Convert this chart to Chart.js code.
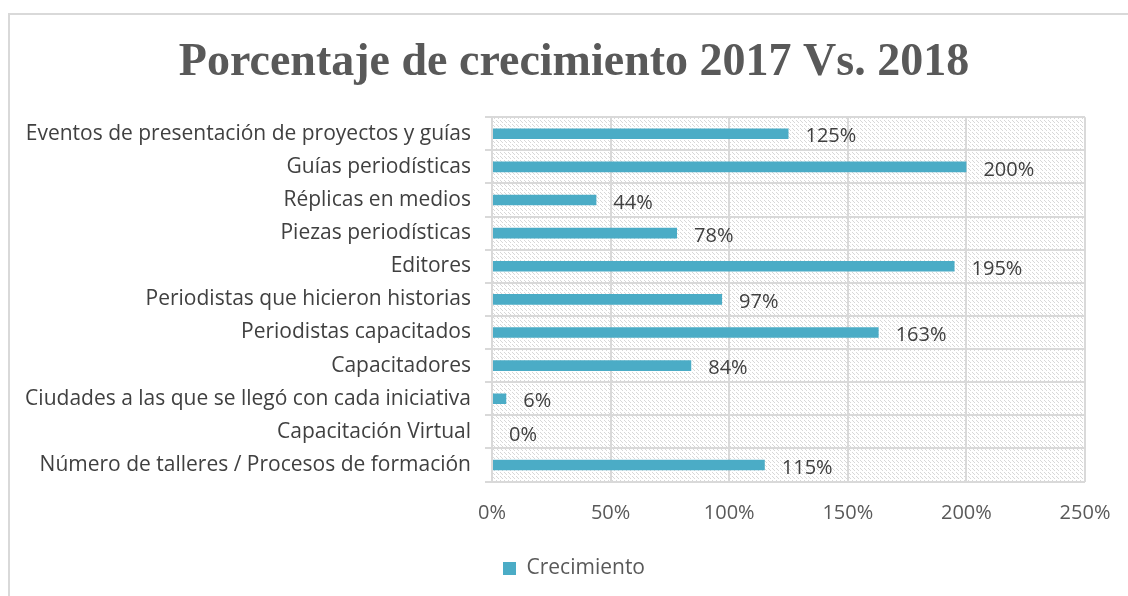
<!DOCTYPE html>
<html>
<head>
<meta charset="utf-8">
<script src="https://cdn.jsdelivr.net/npm/chart.js@4/dist/chart.umd.min.js"></script>
<style>
  html, body { margin: 0; padding: 0; background: #fff; overflow: hidden; }
  #frame { position: absolute; left: 8px; top: 13px; width: 1130px; height: 600px;
           border-left: 2px solid #d9d9d9; border-top: 2px solid #d9d9d9; }
  #wrap { position: absolute; left: 0; top: 0; width: 1148px; height: 596px; }
</style>
</head>
<body>
<div id="frame"></div>
<div id="wrap"><canvas id="chart"></canvas></div>
<script>
const categories = [
  'Eventos de presentación de proyectos y guías',
  'Guías periodísticas',
  'Réplicas en medios',
  'Piezas periodísticas',
  'Editores',
  'Periodistas que hicieron historias',
  'Periodistas capacitados',
  'Capacitadores',
  'Ciudades a las que se llegó con cada iniciativa',
  'Capacitación Virtual',
  'Número de talleres / Procesos de formación'
];
const growth = [125, 200, 44, 78, 195, 97, 163, 84, 6, 0, 115];
const xTicks = [0, 50, 100, 150, 200, 250];

// hatched plot background
const pc = document.createElement('canvas');
pc.width = 4; pc.height = 4;
const p = pc.getContext('2d');
p.fillStyle = '#ffffff';
p.fillRect(0, 0, 4, 4);
p.fillStyle = '#d8d8d8';
p.fillRect(0, 0, 1, 1);
p.fillRect(1, 1, 1, 1);
p.fillRect(2, 2, 1, 1);
const ctx = document.getElementById('chart').getContext('2d');
const hatch = ctx.createPattern(pc, 'repeat');

const hatchBg = {
  id: 'hatchBg',
  beforeDraw(chart) {
    const a = chart.chartArea;
    chart.ctx.save();
    chart.ctx.fillStyle = hatch;
    chart.ctx.fillRect(a.left, a.top, a.right - a.left, a.bottom - a.top);
    chart.ctx.restore();
  }
};

const valueLabels = {
  id: 'valueLabels',
  afterDatasetsDraw(chart) {
    const c = chart.ctx;
    c.save();
    c.font = '20px "Open Sans", sans-serif';
    c.fillStyle = '#404040';
    c.textBaseline = 'middle';
    chart.getDatasetMeta(0).data.forEach((bar, i) => {
      c.fillText(growth[i] + '%', bar.x + 17, bar.y + 3);
    });
    c.restore();
  }
};

new Chart(ctx, {
  type: 'bar',
  data: {
    labels: categories,
    datasets: [{
      label: 'Crecimiento',
      data: growth,
      backgroundColor: '#4bacc6',
      barPercentage: 0.32,
      categoryPercentage: 1
    }]
  },
  plugins: [hatchBg, valueLabels],
  options: {
    indexAxis: 'y',
    responsive: true,
    maintainAspectRatio: false,
    animation: false,
    layout: { padding: { left: 0, right: 0, top: 0, bottom: 7 } },
    scales: {
      x: {
        min: 0, max: 250,
        afterBuildTicks: axis => { axis.ticks = xTicks.map(v => ({ value: v })); },
        grid: { color: '#d9d9d9', lineWidth: 2, drawTicks: false },
        border: { display: false },
        ticks: {
          callback: v => v + '%',
          color: '#595959',
          font: { family: '"Open Sans", sans-serif', size: 20 },
          padding: 20
        }
      },
      y: {
        grid: { color: '#d9d9d9', lineWidth: 2, offset: true, tickLength: 7 },
        border: { color: '#d9d9d9', width: 2 },
        afterFit: axis => { axis.width = 492; },
        ticks: {
          color: '#404040',
          font: { family: '"Open Sans", sans-serif', size: 21 },
          padding: 14
        }
      },
      // empty right axis, only keeps the title centred like the original
      spacer: {
        type: 'linear',
        position: 'right',
        grid: { display: false },
        border: { display: false },
        ticks: { display: false },
        afterFit: axis => { axis.width = 63; }
      }
    },
    plugins: {
      title: {
        display: true,
        text: 'Porcentaje de crecimiento 2017 Vs. 2018',
        color: '#595959',
        font: { family: '"Liberation Serif", serif', size: 46, weight: 'bold' },
        padding: { top: 36, bottom: 26 }
      },
      legend: {
        position: 'bottom',
        labels: {
          boxWidth: 13, boxHeight: 13,
          color: '#595959',
          font: { family: '"Open Sans", sans-serif', size: 21 },
          padding: 12.5
        }
      },
      tooltip: { enabled: false }
    }
  }
});
</script>
</body>
</html>
